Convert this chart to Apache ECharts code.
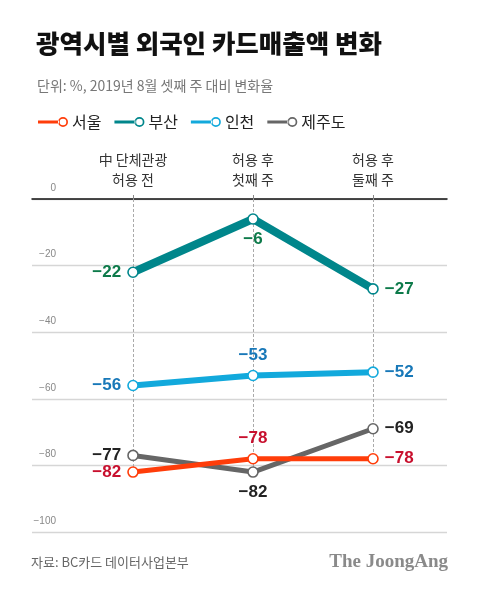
<!DOCTYPE html>
<html><head><meta charset="utf-8">
<script src="https://cdn.jsdelivr.net/npm/echarts@6/dist/echarts.min.js"></script>
<style>html,body{margin:0;padding:0;background:#fff}#c{width:480px;height:595px}</style>
</head><body><div id="c"></div>
<script>
const categories = ['中 단체관광\n허용 전', '허용 후\n첫째 주', '허용 후\n둘째 주'];
const seriesNames = ['서울', '부산', '인천', '제주도'];
const seoul = [-82, -78, -78];
const busan = [-22, -6, -27];
const incheon = [-56, -53, -52];
const jeju = [-77, -82, -69];
const yTicks = [0, -20, -40, -60, -80, -100];

const lineColors = ['#ff3d0a', '#00868b', '#12a9dc', '#666666'];
const labelColors = ['#c8102e', '#0d7a4a', '#1878b8', '#222222'];
const widths = [5, 8, 6, 5];
const values = [seoul, busan, incheon, jeju];
const labelPos = [
  ['left', 'top', 'right'],
  ['left', 'bottom', 'right'],
  ['left', 'top', 'right'],
  ['left', 'bottom', 'right']
];
const fmt = v => String(v).replace('-', '−');
const LF = '"Liberation Sans", Arial, "Noto Sans CJK KR", sans-serif';
const KF = '"Noto Sans CJK KR", sans-serif';

const legendIcon = 'path://M0,3.5 L21,3.5 L21,6.5 L0,6.5 Z M30,5 A5,5 0 1,0 20,5 A5,5 0 1,0 30,5 Z M28.3,5 A3.3,3.3 0 1,1 21.7,5 A3.3,3.3 0 1,1 28.3,5 Z';

const lowest = categories.map((c, i) => Math.min(...values.map(v => v[i])));

const series = values.map((v, s) => ({
  name: seriesNames[s],
  type: 'line',
  xAxisIndex: 1, yAxisIndex: 1,
  z: 10 + (s === 0 ? 1 : 0),
  data: v.map((val, i) => ({
    value: val,
    label: { position: labelPos[s][i] }
  })),
  symbol: 'circle', symbolSize: 10,
  itemStyle: { color: '#fff', borderColor: lineColors[s], borderWidth: 1.6 },
  lineStyle: { color: lineColors[s], width: widths[s] },
  label: {
    show: true, formatter: p => fmt(p.value), color: labelColors[s],
    fontFamily: LF, fontWeight: 'bold', fontSize: 17, distance: 6
  },
  emphasis: { disabled: true },
  animation: false
}));
series.push({
  type: 'line', xAxisIndex: 1, yAxisIndex: 1, data: [], silent: true,
  markLine: {
    symbol: 'none', silent: true, animation: false,
    lineStyle: { color: '#aaa', type: [3, 2], width: 1 },
    label: { show: false },
    data: lowest.map((lo, i) => [{ coord: [i, 0] }, { coord: [i, lo] }])
  },
  z: 1
});

const chart = echarts.init(document.getElementById('c'));
chart.setOption({
  backgroundColor: '#fff',
  animation: false,
  title: [
    { text: '광역시별 외국인 카드매출액 변화', left: 31, top: 26,
      textStyle: { fontFamily: KF, fontWeight: 900, fontSize: 25.5, color: '#111' } },
    { text: '단위: %, 2019년 8월 셋째 주 대비 변화율', left: 32, top: 74,
      textStyle: { fontFamily: KF, fontWeight: 'normal', fontSize: 14, color: '#777' } }
  ],
  legend: {
    data: seriesNames.map((n, s) => ({
      name: n, icon: legendIcon,
      itemStyle: { color: lineColors[s], borderWidth: 0 },
      lineStyle: { width: 0, opacity: 0 }
    })),
    left: 33, top: 109, itemWidth: 30, itemHeight: 10, itemGap: 13,
    textStyle: { fontFamily: KF, fontSize: 16, color: '#222', padding: [0, 0, 0, -1] },
    selectedMode: false
  },
  grid: [
    { left: 32, right: 33, top: 199, bottom: 63 },
    { left: 133, right: 107, top: 199, bottom: 63 }
  ],
  xAxis: [
    { gridIndex: 0, type: 'value', position: 'top', min: 0, max: 1,
      axisLine: { show: true, onZero: false, lineStyle: { color: '#111', width: 1.5 } },
      axisTick: { show: false }, axisLabel: { show: false }, splitLine: { show: false } },
    { gridIndex: 1, type: 'category', position: 'top', data: categories, boundaryGap: false,
      axisLine: { show: false },
      axisTick: { show: true, inside: false, length: 4, lineStyle: { color: '#888' } },
      axisLabel: { fontFamily: KF, fontSize: 14, color: '#333', lineHeight: 20, margin: 9, align: 'center' },
      splitLine: { show: false } }
  ],
  yAxis: [
    { gridIndex: 0, type: 'value', min: -100, max: 0, interval: 20,
      axisLine: { show: false }, axisTick: { show: false },
      axisLabel: { formatter: v => fmt(v), fontFamily: LF, fontSize: 10, color: '#888',
        margin: -24, align: 'right', verticalAlign: 'bottom', padding: [0, 0, 6, 0] },
      splitLine: { lineStyle: { color: '#d6d6d6', width: 1.3 } } },
    { gridIndex: 1, type: 'value', min: -100, max: 0, interval: 20, show: false,
      splitLine: { show: false } }
  ],
  series: series,
  graphic: [
    { type: 'text', left: 31, top: 556,
      style: { text: '자료: BC카드 데이터사업본부', font: '13px "Noto Sans CJK KR", sans-serif', fill: '#666' } },
    { type: 'text', right: 32, top: 553,
      style: { text: 'The JoongAng', font: 'bold 19px "Liberation Serif", serif', fill: '#8a8a8a' } }
  ]
});
</script></body></html>
